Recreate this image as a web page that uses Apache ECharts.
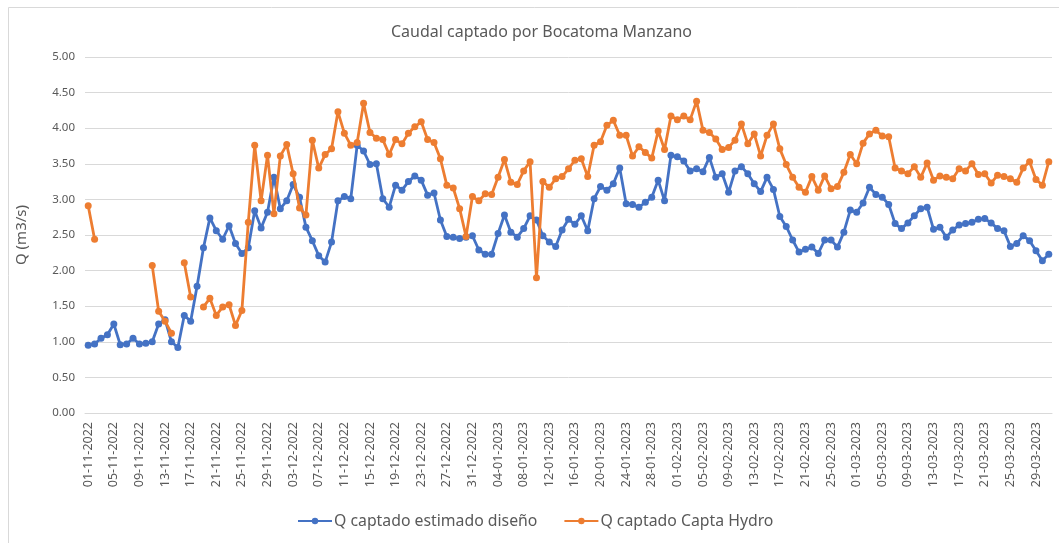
<!DOCTYPE html>
<html>
<head>
<meta charset="utf-8">
<script src="https://cdn.jsdelivr.net/npm/echarts@6/dist/echarts.min.js"></script>
<style>
html, body { margin: 0; padding: 0; background: #fff; }
#chart { width: 1059px; height: 543px; }
</style>
</head>
<body>
<div id="chart"></div>
<script>
// daily dates 01-11-2022 .. 31-03-2023
var startDate = new Date(2022, 10, 1);
var dayCount = 151;

// Q captado estimado diseño (m3/s)
var qDiseno = [
	0.95, 0.97, 1.05, 1.10, 1.25, 0.96, 0.97, 1.05, 0.97, 0.98,
	1.00, 1.25, 1.31, 1.00, 0.92, 1.37, 1.29, 1.78, 2.32, 2.74,
	2.56, 2.44, 2.63, 2.38, 2.24, 2.32, 2.84, 2.60, 2.82, 3.31,
	2.87, 2.98, 3.21, 3.03, 2.61, 2.42, 2.21, 2.12, 2.40, 2.98,
	3.04, 3.01, 3.76, 3.68, 3.49, 3.50, 3.01, 2.89, 3.20, 3.13,
	3.25, 3.33, 3.27, 3.06, 3.09, 2.71, 2.48, 2.47, 2.45, 2.47,
	2.49, 2.29, 2.23, 2.23, 2.52, 2.78, 2.54, 2.47, 2.59, 2.77,
	2.71, 2.49, 2.40, 2.34, 2.57, 2.72, 2.65, 2.77, 2.56, 3.01,
	3.18, 3.13, 3.22, 3.44, 2.94, 2.93, 2.89, 2.96, 3.03, 3.27,
	2.98, 3.62, 3.60, 3.54, 3.40, 3.43, 3.39, 3.59, 3.31, 3.36,
	3.10, 3.40, 3.46, 3.36, 3.22, 3.11, 3.31, 3.14, 2.76, 2.62,
	2.43, 2.26, 2.30, 2.33, 2.24, 2.43, 2.43, 2.33, 2.54, 2.85,
	2.82, 2.95, 3.17, 3.07, 3.03, 2.93, 2.66, 2.59, 2.67, 2.77,
	2.87, 2.89, 2.58, 2.61, 2.47, 2.57, 2.64, 2.66, 2.68, 2.72,
	2.73, 2.67, 2.59, 2.56, 2.34, 2.38, 2.49, 2.42, 2.28, 2.14,
	2.23
];

// Q captado Capta Hydro (m3/s), null = sin dato
var qHydro = [
	2.91, 2.44, null, null, null, null, null, null, null, null,
	2.07, 1.43, 1.29, 1.12, null, 2.11, 1.63, null, 1.49, 1.61,
	1.37, 1.49, 1.52, 1.23, 1.44, 2.68, 3.76, 2.98, 3.62, 2.80,
	3.61, 3.77, 3.36, 2.88, 2.78, 3.83, 3.44, 3.63, 3.71, 4.23,
	3.93, 3.76, 3.80, 4.35, 3.94, 3.86, 3.84, 3.63, 3.84, 3.78,
	3.93, 4.02, 4.09, 3.84, 3.80, 3.57, 3.20, 3.16, 2.87, 2.48,
	3.04, 2.98, 3.08, 3.07, 3.31, 3.56, 3.24, 3.21, 3.40, 3.53,
	1.90, 3.25, 3.17, 3.29, 3.32, 3.43, 3.55, 3.57, 3.32, 3.76,
	3.81, 4.04, 4.11, 3.90, 3.90, 3.61, 3.74, 3.66, 3.58, 3.96,
	3.70, 4.17, 4.12, 4.17, 4.12, 4.38, 3.97, 3.94, 3.85, 3.70,
	3.73, 3.83, 4.06, 3.78, 3.92, 3.61, 3.90, 4.06, 3.71, 3.49,
	3.31, 3.17, 3.10, 3.32, 3.13, 3.33, 3.15, 3.18, 3.38, 3.63,
	3.50, 3.79, 3.92, 3.97, 3.89, 3.88, 3.44, 3.40, 3.36, 3.46,
	3.31, 3.51, 3.27, 3.33, 3.31, 3.29, 3.43, 3.40, 3.50, 3.35,
	3.36, 3.23, 3.34, 3.32, 3.29, 3.24, 3.44, 3.53, 3.28, 3.20,
	3.53
];

function pad(n) {
	return (n < 10 ? '0' : '') + n;
}

function buildDates() {
	var out = [];
	for (var i = 0; i < dayCount; i++) {
		var d = new Date(startDate.getTime());
		d.setDate(d.getDate() + i);
		out.push(pad(d.getDate()) + '-' + pad(d.getMonth() + 1) + '-' + d.getFullYear());
	}
	return out;
}

var fechas = buildDates();
var gris = '#595959';
var fuente = 'Noto Sans';

var myChart = echarts.init(document.getElementById('chart'));
var option = {
	animation: false,
	backgroundColor: '#fff',
	textStyle: { fontFamily: fuente },
	graphic: [{
		type: 'rect',
		shape: { x: 8.5, y: 7.5, width: 1100, height: 600 },
		style: { fill: 'none', stroke: '#d9d9d9', lineWidth: 1 },
		silent: true
	}],
	title: {
		text: 'Caudal captado por Bocatoma Manzano',
		left: 386,
		top: 19,
		textStyle: { fontFamily: fuente, fontSize: 16, fontWeight: 'normal', color: gris }
	},
	legend: {
		bottom: 9,
		left: 292,
		itemGap: 26,
		itemWidth: 34,
		itemHeight: 8,
		textStyle: { fontFamily: fuente, fontSize: 15.8, color: gris, padding: [0, 0, 0, -3] },
		data: ['Q captado estimado diseño', 'Q captado Capta Hydro']
	},
	grid: { left: 85, right: 7, top: 57, bottom: 130, outerBoundsMode: 'none' },
	xAxis: {
		type: 'category',
		data: fechas,
		boundaryGap: true,
		axisLine: { lineStyle: { color: '#d9d9d9' } },
		axisTick: { show: false },
		axisLabel: {
			interval: 3,
			rotate: 89.99,
			margin: 9,
			hideOverlap: false,
			overflow: 'none',
			fontFamily: fuente,
			fontSize: 12.5,
			color: gris
		}
	},
	yAxis: {
		type: 'value',
		min: 0,
		max: 5,
		interval: 0.5,
		name: 'Q (m3/s)',
		nameLocation: 'middle',
		nameGap: 56,
		nameTextStyle: { fontFamily: fuente, fontSize: 15, color: gris },
		axisLine: { show: false },
		axisTick: { show: false },
		axisLabel: {
			fontFamily: fuente,
			fontSize: 11.5,
			color: gris,
			margin: 10,
			formatter: function (v) { return v.toFixed(2); }
		},
		splitLine: { lineStyle: { color: '#d9d9d9', width: 1 } }
	},
	series: [
		{
			name: 'Q captado estimado diseño',
			type: 'line',
			data: qDiseno,
			symbol: 'circle',
			symbolSize: 7,
			showAllSymbol: true,
			color: '#4472C4',
			lineStyle: { width: 2.8 },
			z: 2
		},
		{
			name: 'Q captado Capta Hydro',
			type: 'line',
			data: qHydro,
			connectNulls: false,
			symbol: 'circle',
			symbolSize: 7,
			showAllSymbol: true,
			color: '#ED7D31',
			lineStyle: { width: 2.8 },
			z: 3
		}
	]
};
myChart.setOption(option);
</script>
</body>
</html>
